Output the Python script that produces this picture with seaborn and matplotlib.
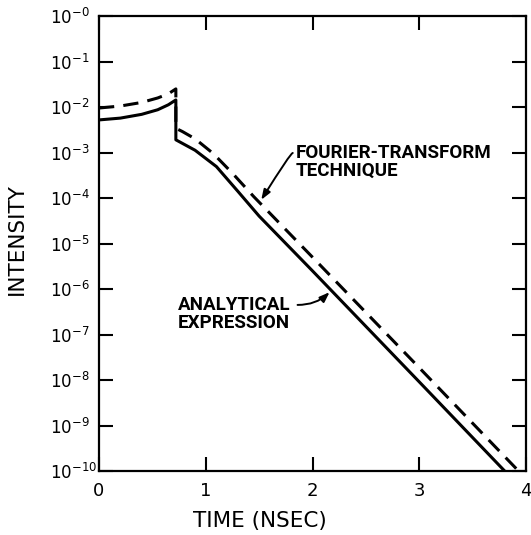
import numpy as np
import pandas as pd
import matplotlib
matplotlib.use("Agg")
import matplotlib.pyplot as plt
import seaborn as sns

# ---- data ----
analytical_t = [0.0, 0.2, 0.4, 0.55, 0.65, 0.72, 0.72, 0.9, 1.1, 1.3, 1.5, 2.0, 3.0, 3.80]
analytical_i = [5.2e-3, 5.7e-3, 6.9e-3, 8.7e-3, 1.12e-2, 1.43e-2, 1.9e-3, 1.12e-3,
                4.9e-4, 1.41e-4, 4.0e-5, 2.5e-6, 9.1e-9, 1.0e-10]
fourier_t = [0.0, 0.2, 0.4, 0.55, 0.65, 0.72, 0.72, 0.78, 0.9, 1.07, 1.25, 1.45, 2.0, 3.0, 3.93]
fourier_i = [9.5e-3, 1.05e-2, 1.26e-2, 1.58e-2, 1.95e-2, 2.5e-2, 3.4e-3, 2.9e-3, 2.0e-3,
             9.5e-4, 3.5e-4, 1.07e-4, 5.0e-6, 1.86e-8, 1.0e-10]

x_ticks = [0, 1, 2, 3, 4]
y_ticks = [1e-10, 1e-9, 1e-8, 1e-7, 1e-6, 1e-5, 1e-4, 1e-3, 1e-2, 1e-1, 1e0]
y_tick_labels = [r"$10^{-10}$", r"$10^{-9}$", r"$10^{-8}$", r"$10^{-7}$", r"$10^{-6}$",
                 r"$10^{-5}$", r"$10^{-4}$", r"$10^{-3}$", r"$10^{-2}$", r"$10^{-1}$", r"$10^{-0}$"]

sns.set_style("ticks")
plt.rcParams["font.family"] = ["DejaVu Sans"]
for k in ["text.color", "axes.labelcolor", "xtick.color", "ytick.color", "axes.edgecolor"]:
    plt.rcParams[k] = "black"

fig = plt.figure(figsize=(5.31, 5.35), dpi=100)
ax = fig.add_axes([99 / 531, 1 - 471 / 535, 427 / 531, 455 / 535])

df_a = pd.DataFrame({"t": analytical_t, "i": analytical_i})
df_f = pd.DataFrame({"t": fourier_t, "i": fourier_i})

sns.lineplot(data=df_a, x="t", y="i", ax=ax, color="black", linewidth=2.2,
             estimator=None, sort=False)
sns.lineplot(data=df_f, x="t", y="i", ax=ax, color="black", linewidth=2.2,
             estimator=None, sort=False)
ax.lines[1].set_dashes((5, 3))

ax.set_yscale("log")
ax.set_xlim(0, 4)
ax.set_ylim(1e-10, 1e0)
ax.set_xticks(x_ticks)
ax.set_xticklabels([str(v) for v in x_ticks], fontsize=13)
ax.set_yticks(y_ticks)
ax.set_yticklabels(y_tick_labels, fontsize=12)
ax.yaxis.set_minor_locator(matplotlib.ticker.NullLocator())
ax.tick_params(axis="both", which="major", direction="in", length=10, width=1.5,
               top=True, right=True, colors="black")
ax.tick_params(axis="x", pad=8)
ax.tick_params(axis="y", pad=35)
for lab in ax.get_yticklabels():
    lab.set_horizontalalignment("left")
for s in ax.spines.values():
    s.set_linewidth(1.6)
    s.set_color("black")

ax.set_xlabel("TIME (NSEC)", fontsize=15.5)
ax.set_ylabel("INTENSITY", fontsize=15.5)
ax.xaxis.set_label_coords((260 - 99) / 427, (471 - 511) / 455)
ax.yaxis.set_label_coords((27 - 99) / 427, 0.51)

ann_font = dict(family=["Roboto", "DejaVu Sans"], fontsize=13.5,
                fontweight="bold", color="black")
arrow_style = dict(arrowstyle="-|>,head_length=0.6,head_width=0.22",
                   color="black", lw=1.4, shrinkA=0, shrinkB=0)

ax.text(1.84, 10 ** -3.21, "FOURIER-TRANSFORM\nTECHNIQUE", va="center", ha="left",
        linespacing=0.95, **ann_font)
ax.annotate("", xy=(1.52, 10 ** -4.04), xytext=(1.815, 10 ** -3.01),
            arrowprops=dict(connectionstyle="angle3,angleA=0,angleB=58", **arrow_style))
ax.text(0.74, 10 ** -6.55, "ANALYTICAL\nEXPRESSION", va="center", ha="left",
        linespacing=0.95, **ann_font)
ax.annotate("", xy=(2.16, 10 ** -6.07), xytext=(1.86, 10 ** -6.35),
            arrowprops=dict(connectionstyle="arc3,rad=0.2", **arrow_style))

fig.savefig("out.png", dpi=100)
